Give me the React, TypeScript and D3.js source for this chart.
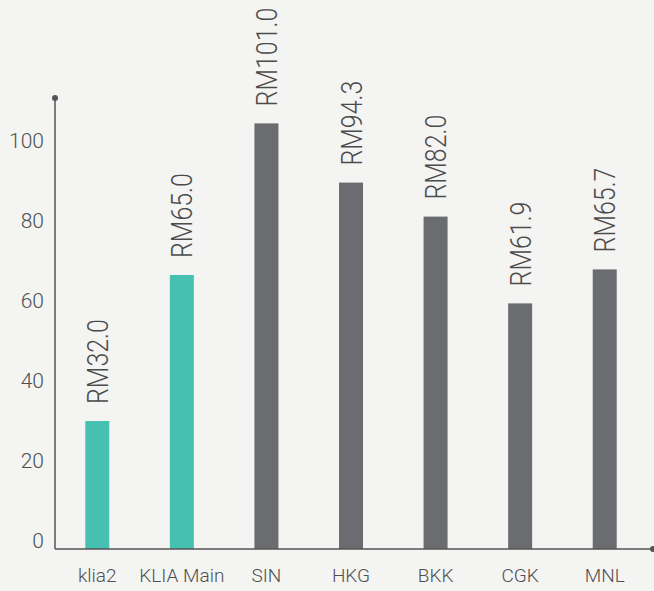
import React from 'react';
import { select, scaleBand, scaleLinear, axisLeft, axisBottom } from 'd3';

const categories = ['klia2', 'KLIA Main', 'SIN', 'HKG', 'BKK', 'CGK', 'MNL'];
const barValues = [32, 68.5, 106.4, 91.6, 83.1, 61.4, 69.9];
const valueLabels = ['RM32.0', 'RM65.0', 'RM101.0', 'RM94.3', 'RM82.0', 'RM61.9', 'RM65.7'];
const barColors = ['#46c1b1', '#46c1b1', '#6b6c70', '#6b6c70', '#6b6c70', '#6b6c70', '#6b6c70'];
const yTicks = [0, 20, 40, 60, 80, 100];

const dims = {
    width: 654,
    height: 591,
    left: 55,
    right: 647,
    zeroY: 549,
    axisEnd: 653,
    barWidth: 24,
};

const font = 'Roboto, "Open Sans", sans-serif';

const App: React.FC = () => {
    const ref = React.useRef<SVGSVGElement>(null);

    React.useEffect(() => {
        const svg = select(ref.current);
        svg.selectAll('*').remove();

        const x = scaleBand<string>()
            .domain(categories)
            .range([dims.left, dims.right])
            .padding(0);

        const y = scaleLinear()
            .domain([0, 100])
            .range([dims.zeroY, 149]);

        // background
        svg.append('rect')
            .attr('width', dims.width)
            .attr('height', dims.height)
            .attr('fill', '#f4f4f2');

        // bars
        svg.append('g')
            .selectAll('rect')
            .data(categories)
            .join('rect')
            .attr('x', (d) => x(d)! + x.bandwidth() / 2 - dims.barWidth / 2)
            .attr('width', dims.barWidth)
            .attr('y', (_, i) => y(barValues[i]))
            .attr('height', (_, i) => y(0) - y(barValues[i]))
            .attr('fill', (_, i) => barColors[i]);

        // value labels (rotated, slightly condensed)
        svg.append('g')
            .selectAll('text')
            .data(categories)
            .join('text')
            .attr('transform', (d, i) => {
                const cx = x(d)! + x.bandwidth() / 2;
                return `translate(${cx + 10.5},${y(barValues[i]) - 17}) rotate(-90) scale(0.86,1)`;
            })
            .attr('font-family', font)
            .attr('font-weight', 300)
            .attr('font-size', 29)
            .attr('fill', '#4b4b4b')
            .text((_, i) => valueLabels[i]);

        // y axis
        const yAxis = svg.append('g')
            .attr('transform', `translate(${dims.left},0)`)
            .call(axisLeft(y).tickValues(yTicks).tickSize(0).tickPadding(11));
        yAxis.select('.domain').remove();
        yAxis.selectAll('text')
            .attr('font-family', font)
            .attr('font-weight', 300)
            .attr('font-size', 21)
            .attr('fill', '#4f4f4f')
            .attr('dy', '-0.05em');

        svg.append('line')
            .attr('x1', dims.left).attr('x2', dims.left)
            .attr('y1', y(112.75)).attr('y2', dims.zeroY)
            .attr('stroke', '#555').attr('stroke-width', 1.5);
        svg.append('circle')
            .attr('cx', dims.left).attr('cy', y(112.75)).attr('r', 3)
            .attr('fill', '#555');

        // x axis
        const xAxis = svg.append('g')
            .attr('transform', `translate(0,${dims.zeroY})`)
            .call(axisBottom(x).tickSize(0).tickPadding(20));
        xAxis.select('.domain').remove();
        xAxis.selectAll('text')
            .attr('font-family', font)
            .attr('font-weight', 300)
            .attr('font-size', 19)
            .attr('fill', '#4f4f4f')
            .attr('dy', '0.71em');

        svg.append('line')
            .attr('x1', dims.left).attr('x2', dims.axisEnd)
            .attr('y1', dims.zeroY).attr('y2', dims.zeroY)
            .attr('stroke', '#555').attr('stroke-width', 1.5);
        svg.append('circle')
            .attr('cx', dims.axisEnd).attr('cy', dims.zeroY).attr('r', 3)
            .attr('fill', '#555');
    }, []);

    return (
        <div style={{ position: 'absolute', left: 0, top: 0 }}>
            <svg ref={ref} width={dims.width} height={dims.height} style={{ display: 'block' }} />
        </div>
    );
};

export default App;
